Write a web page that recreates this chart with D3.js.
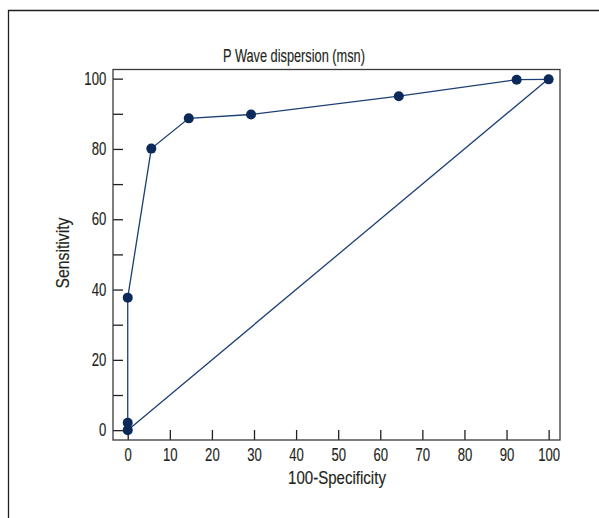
<!DOCTYPE html>
<html>
<head>
<meta charset="utf-8">
<script src="https://cdn.jsdelivr.net/npm/d3@7"></script>
<style>
  body { margin: 0; background: #fff; }
  svg text { font-family: "Liberation Sans", Arial, sans-serif; fill: #231f20; font-size: 17.5px;
             stroke: #231f20; stroke-width: 0.15px; }
</style>
</head>
<body>
<svg class="chart" width="599" height="518"></svg>
<script>
// ROC points
var fpr = [0, 0, 0, 5.6, 14.5, 29.3, 64.4, 92.4, 100]
var sens = [0, 2.1, 37.7, 80.1, 88.7, 89.8, 95, 99.7, 99.8]
var diagX = [0, 100]
var diagY = [0, 100]
var xTicks = [0, 10, 20, 30, 40, 50, 60, 70, 80, 90, 100]
var yTicks = [0, 10, 20, 30, 40, 50, 60, 70, 80, 90, 100]

var lineColor = "#1c3f73"
var dotColor = "#0b2a59"

var chart = d3.select(".chart")

// outer panel edge (only top and left are visible)
chart.append("path")
  .attr("d", "M8.5,518 V10.5 H599")
  .attr("fill", "none")
  .attr("stroke", "#231f20")
  .attr("stroke-width", 1.3)

var x = d3.scaleLinear().domain([-3.5, 102.7]).range([113, 560])
var y = d3.scaleLinear().domain([-2.8, 102.6]).range([440, 69.5])

// the source font is a condensed one, so squeeze text horizontally
chart.append("g")
  .attr("transform", "translate(0,440)")
  .call(d3.axisBottom(x).tickValues(xTicks).tickSizeInner(-10).tickSizeOuter(0).tickPadding(9))
  .call(function(g) { g.select(".domain").remove() })
  .call(function(g) {
    g.selectAll("line").attr("stroke", "#231f20").attr("stroke-width", 1.3)
    g.selectAll("text").attr("transform", "scale(0.75,1)")
  })

chart.append("g")
  .attr("transform", "translate(113,0)")
  .call(d3.axisLeft(y).tickValues(yTicks).tickSizeInner(-10).tickSizeOuter(0).tickPadding(9)
    .tickFormat(function(d) { return d % 20 === 0 ? d : "" }))
  .call(function(g) { g.select(".domain").remove() })
  .call(function(g) {
    g.selectAll("line").attr("stroke", "#231f20").attr("stroke-width", 1.3)
    g.selectAll("text").attr("transform", "scale(0.75,1)")
  })

// plot frame
chart.append("rect")
  .attr("x", 113)
  .attr("y", 69.5)
  .attr("width", 447)
  .attr("height", 370.5)
  .attr("fill", "none")
  .attr("stroke", "#3a3a3a")
  .attr("stroke-width", 1.3)

var line = d3.line()
  .x(function(d) { return x(d[0]) })
  .y(function(d) { return y(d[1]) })

chart.append("path")
  .datum(d3.zip(diagX, diagY))
  .attr("d", line)
  .attr("fill", "none")
  .attr("stroke", lineColor)
  .attr("stroke-width", 1.3)

var pts = d3.zip(fpr, sens)

chart.append("path")
  .datum(pts)
  .attr("d", line)
  .attr("fill", "none")
  .attr("stroke", lineColor)
  .attr("stroke-width", 1.3)

chart.selectAll(".dot")
    .data(pts)
  .enter().append("circle")
    .attr("class", "dot")
    .attr("r", 5)
    .attr("cx", function(d) { return x(d[0]) })
    .attr("cy", function(d) { return y(d[1]) })
    .attr("fill", dotColor)

chart.append("text")
  .attr("transform", "translate(294,62) scale(0.73,1)")
  .attr("text-anchor", "middle")
  .text("P Wave dispersion (msn)")

chart.append("text")
  .attr("transform", "translate(337,484) scale(0.86,1)")
  .attr("text-anchor", "middle")
  .text("100-Specificity")

chart.append("text")
  .attr("transform", "translate(69,253) rotate(-90) scale(0.9,1)")
  .attr("text-anchor", "middle")
  .text("Sensitivity")
</script>
</body>
</html>
